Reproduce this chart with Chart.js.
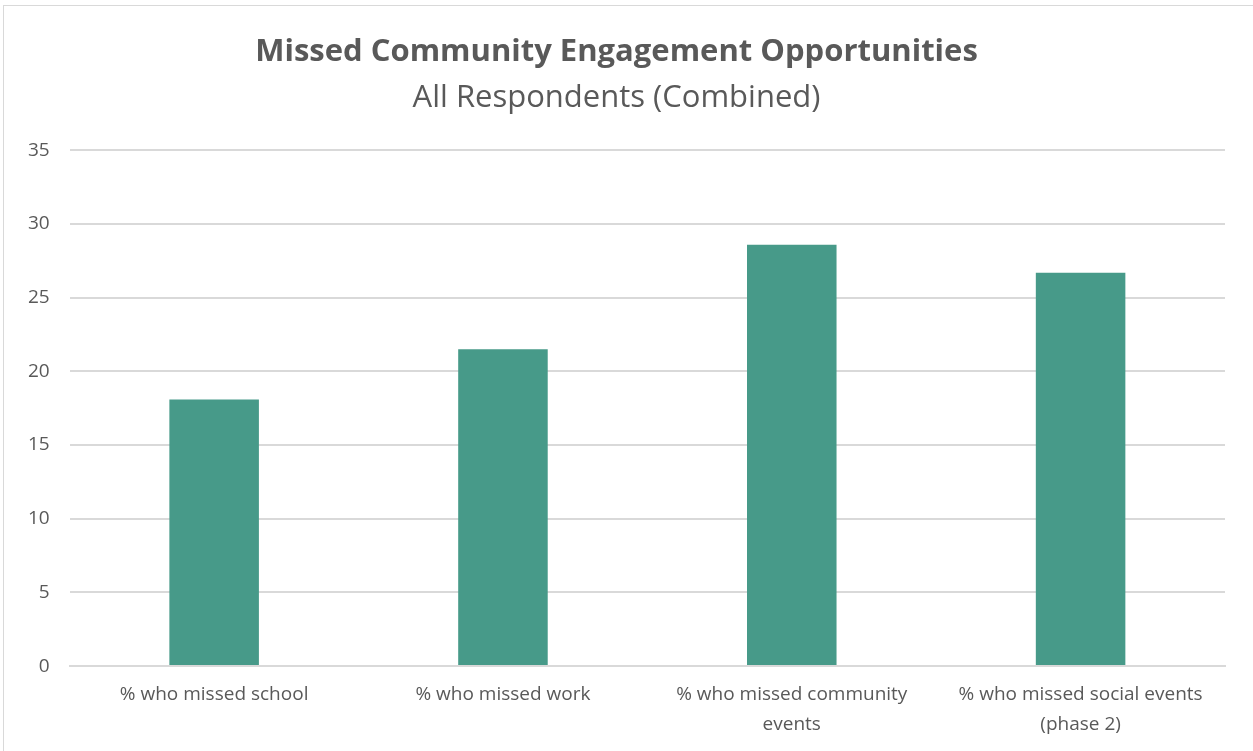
<!DOCTYPE html>
<html>
<head>
<meta charset="utf-8">
<script src="https://cdn.jsdelivr.net/npm/chart.js@4.4.1/dist/chart.umd.min.js"></script>
<style>
  html, body { margin: 0; padding: 0; background: #ffffff; }
  #wrap { position: absolute; left: 3px; top: 5px; width: 1260px; height: 760px; border: 1px solid #d9d9d9; box-sizing: border-box; }
  #chartBox { position: absolute; left: 0; top: 0; width: 1253px; height: 751px; }
</style>
</head>
<body>
<div id="wrap"></div>
<div id="chartBox"><canvas id="canvasData"></canvas></div>
<script>
// chart values
var categories = [
    ["% who missed school"],
    ["% who missed work"],
    ["% who missed community", "events"],
    ["% who missed social events", "(phase 2)"]
];
var missedValues = [18.1, 21.5, 28.6, 26.7];
var yTicks = [0, 5, 10, 15, 20, 25, 30, 35];

var textColor = "#595959";
var fontName = "'Open Sans', 'Liberation Sans', sans-serif";

var ctx = document.getElementById("canvasData").getContext("2d");
var barChart = new Chart(ctx, {
    type: "bar",
    data: {
        labels: categories,
        datasets: [
            {
                label: "Missed",
                data: missedValues,
                backgroundColor: "#479a89",
                borderWidth: 0,
                barPercentage: 0.62,
                categoryPercentage: 0.5
            }
        ]
    },
    options: {
        responsive: true,
        maintainAspectRatio: false,
        animation: false,
        layout: {
            padding: { left: 8, right: 28, top: 10, bottom: -2 }
        },
        plugins: {
            legend: { display: false },
            tooltip: { enabled: false },
            title: {
                display: true,
                text: "Missed Community Engagement Opportunities",
                color: textColor,
                font: { family: fontName, size: 31, weight: "bold", lineHeight: 1.2 },
                padding: { top: 24, bottom: 0 }
            },
            subtitle: {
                display: true,
                text: "All Respondents (Combined)",
                color: textColor,
                font: { family: fontName, size: 31, weight: "normal", lineHeight: 1.2 },
                padding: { top: 8, bottom: 34 }
            }
        },
        scales: {
            x: {
                grid: { display: false, drawTicks: false },
                border: { display: true, color: "#d9d9d9", width: 2 },
                ticks: {
                    color: textColor,
                    font: { family: fontName, size: 19, lineHeight: 1.55 },
                    padding: 14,
                    maxRotation: 0,
                    autoSkip: false
                }
            },
            y: {
                min: 0,
                max: 35,
                afterBuildTicks: function (axis) {
                    axis.ticks = yTicks.map(function (v) { return { value: v }; });
                },
                grid: { color: "#d9d9d9", lineWidth: 2, drawTicks: false },
                border: { display: false },
                ticks: {
                    color: textColor,
                    font: { family: fontName, size: 19 },
                    padding: 20
                }
            }
        }
    }
});
</script>
</body>
</html>
